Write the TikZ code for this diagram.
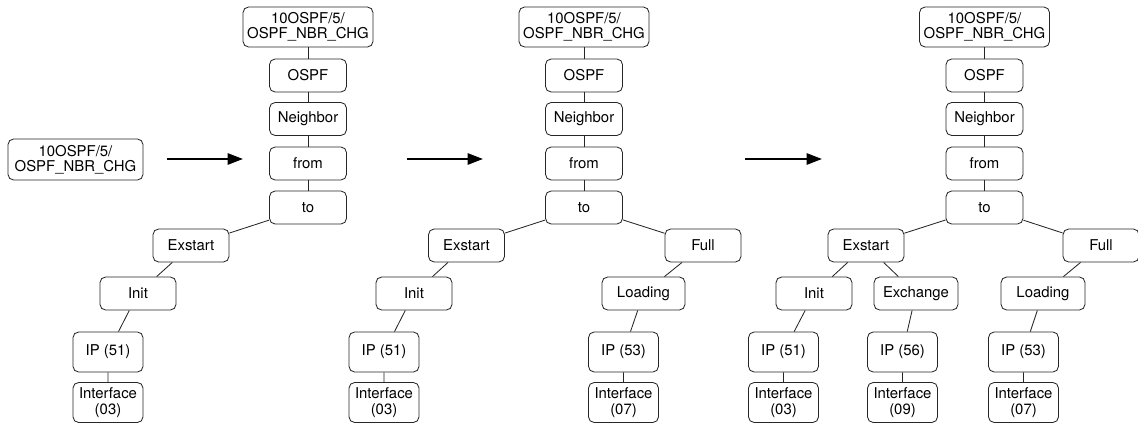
\documentclass[tikz,border=0pt]{standalone}
\usepackage{fontspec}
\setmainfont{TeX Gyre Heros}
\usetikzlibrary{arrows.meta}
\tikzset{
	box/.style={
			draw=black!85, line width=0.6pt, rounded corners=4pt, align=center,
			inner sep=0pt, minimum height=0.825cm, minimum width=#1,
			font=\fontsize{10.6}{11}\selectfont
		},
	box/.default=1.9cm,
	tall/.style={minimum height=1cm},
	link/.style={draw=black!85, line width=0.6pt},
	flow/.style={line width=1.6pt, -{Triangle[length=11pt,width=8pt]}}
}

\begin{document}
\begin{tikzpicture}[x=0.025cm, y=-0.025cm]
		\useasboundingbox (0, 0) rectangle (1138, 426);

		% incoming message
		\node[box=3.375cm, minimum height=1.025cm] (msg) at (75.5, 159.5) {10OSPF/5/\\OSPF\_NBR\_CHG};

		\coordinate (s1) at (167, 159);	\coordinate (e1) at (243, 159);
		\coordinate (s2) at (407, 159);	\coordinate (e2) at (483, 159);
		\coordinate (s3) at (745, 159);	\coordinate (e3) at (822, 159);
		\draw[flow] (s1) -- (e1);
		\draw[flow] (s2) -- (e2);
		\draw[flow] (s3) -- (e3);

		% common trunk of the three trees
		\foreach \t/\cx in {1/308, 2/584, 3/984.5} {
			\node[box=3.25cm, tall] (root\t) at (\cx, 27) {10OSPF/5/\\OSPF\_NBR\_CHG};
			\node[box=1.925cm] (ospf\t) at (\cx, 75.5) {OSPF};
			\node[box=1.925cm] (nbr\t) at (\cx, 119) {Neighbor};
			\node[box=1.925cm] (from\t) at (\cx, 163.5) {from};
			\node[box=1.925cm] (to\t) at (\cx, 207.5) {to};
			\draw[link] (root\t) -- (ospf\t) -- (nbr\t) -- (from\t) -- (to\t);
		}

		% tree 1
		\node[box] (ex1) at (191, 245.5) {Exstart};
		\node[box] (init1) at (138, 293.5) {Init};
		\node[box=1.75cm, tall] (ipa1) at (108, 352) {IP (51)};
		\node[box=1.75cm, tall] (ifa1) at (108, 402.5) {Interface\\(03)};
		\draw[link] (to1) -- (ex1) -- (init1) -- (ipa1) -- (ifa1);

		% tree 2
		\node[box] (ex2) at (466.5, 245.5) {Exstart};
		\node[box] (init2) at (414, 293.5) {Init};
		\node[box=1.75cm, tall] (ipa2) at (384, 352) {IP (51)};
		\node[box=1.75cm, tall] (ifa2) at (384, 402.5) {Interface\\(03)};
		\node[box] (full2) at (703, 245.5) {Full};
		\node[box=2.075cm] (load2) at (643.5, 293.5) {Loading};
		\node[box=1.75cm, tall] (ipc2) at (623.5, 352) {IP (53)};
		\node[box=1.75cm, tall] (ifc2) at (623.5, 402.5) {Interface\\(07)};
		\draw[link] (to2) -- (ex2) -- (init2) -- (ipa2) -- (ifa2);
		\draw[link] (to2) -- (full2) -- (load2) -- (ipc2) -- (ifc2);

		% tree 3
		\node[box] (ex3) at (866, 245.5) {Exstart};
		\node[box] (init3) at (814, 293.5) {Init};
		\node[box=1.75cm, tall] (ipa3) at (783.5, 352) {IP (51)};
		\node[box=1.75cm, tall] (ifa3) at (783.5, 402.5) {Interface\\(03)};
		\node[box=2.1cm] (xchg3) at (916, 293.5) {Exchange};
		\node[box=1.75cm, tall] (ipb3) at (902.5, 352) {IP (56)};
		\node[box=1.75cm, tall] (ifb3) at (902.5, 402.5) {Interface\\(09)};
		\node[box] (full3) at (1101, 245.5) {Full};
		\node[box=2.1cm] (load3) at (1043, 293.5) {Loading};
		\node[box=1.75cm, tall] (ipc3) at (1023.5, 352) {IP (53)};
		\node[box=1.75cm, tall] (ifc3) at (1023.5, 402.5) {Interface\\(07)};
		\draw[link] (to3) -- (ex3) -- (init3) -- (ipa3) -- (ifa3);
		\draw[link] (ex3) -- (xchg3) -- (ipb3) -- (ifb3);
		\draw[link] (to3) -- (full3) -- (load3) -- (ipc3) -- (ifc3);
	\end{tikzpicture}
\end{document}
